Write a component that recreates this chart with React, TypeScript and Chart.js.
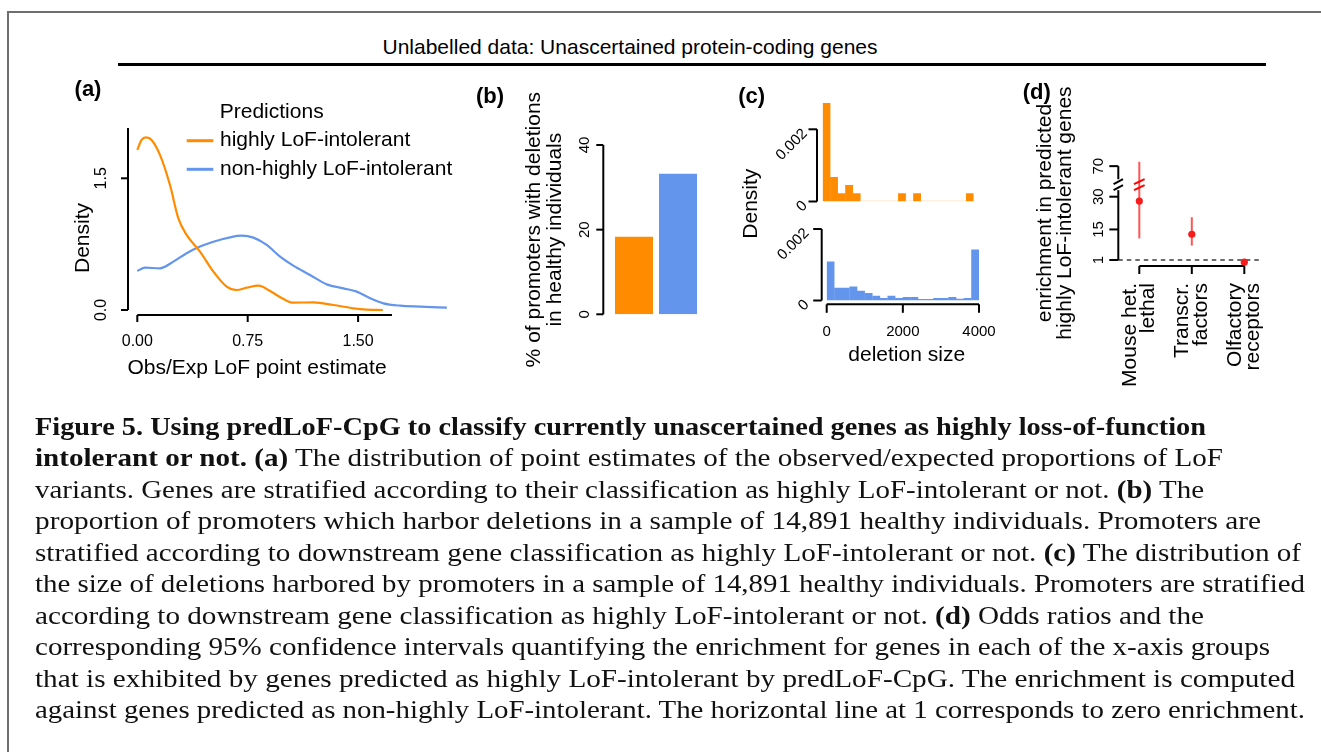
import React, { useEffect, useLayoutEffect, useRef } from "react";
import { Chart, registerables } from "chart.js";

Chart.register(...registerables);

const PAGE_W = 1321;
const PAGE_H = 752;
const SANS = "'Liberation Sans', Arial, Helvetica, sans-serif";
const SERIF = "'Liberation Serif', 'Times New Roman', serif";

const ORANGE = "#FF8C00";
const ORANGE_EMPTY = "#FFE2C2";
const BLUE = "#6495ED";
const RED_POINT = "#F51C1C";
const RED_BAR = "rgba(255, 20, 20, 0.72)";
const RED_MARK = "#FF0000";

// ---------------- Panel (a): density curves
const seriesNames = ["highly LoF-intolerant", "non-highly LoF-intolerant"];
const legendTitle = "Predictions";
const intolerantX = [0, 0.029, 0.059, 0.097, 0.154, 0.222, 0.279, 0.335, 0.426, 0.517, 0.607, 0.675, 0.743, 0.823, 0.902, 0.993, 1.06, 1.196, 1.332, 1.468, 1.559, 1.668];
const intolerantY = [1.823, 1.937, 1.967, 1.937, 1.766, 1.424, 1.044, 0.855, 0.665, 0.437, 0.266, 0.228, 0.254, 0.277, 0.216, 0.125, 0.084, 0.087, 0.057, 0.019, 0.004, 0.0];
const tolerantX = [0, 0.052, 0.154, 0.245, 0.335, 0.426, 0.517, 0.63, 0.709, 0.789, 0.879, 0.97, 1.06, 1.174, 1.287, 1.4, 1.491, 1.582, 1.672, 1.786, 1.922, 2.103];
const tolerantY = [0.444, 0.482, 0.475, 0.551, 0.646, 0.722, 0.778, 0.828, 0.847, 0.824, 0.741, 0.608, 0.505, 0.399, 0.292, 0.247, 0.209, 0.133, 0.076, 0.049, 0.038, 0.027];
const aXTicks = [0, 0.75, 1.5];
const aXTickLabels = ["0.00", "0.75", "1.50"];
const aYTicks = [0, 1.5];
const aYTickLabels = ["0.0", "1.5"];
const aXAxisEnd = 1.73;
const aXTitle = "Obs/Exp LoF point estimate";
const aYTitle = "Density";

// ---------------- Panel (b): promoters with deletions (%)
const bValues = [18.3, 33.2];
const bYTicks = [0, 20, 40];
const bYTitle = ["% of promoters with deletions", "in healthy individuals"];

// ---------------- Panel (c): deletion size histograms
const binStarts = [0, 200, 400, 600, 800, 1000, 1200, 1400, 1600, 1800, 2000, 2200, 2400, 2600, 2800, 3000, 3200, 3400, 3600, 3800];
const binWidth = 200;
const cIntolerant = [0.00273, 0.00068, 0.00023, 0.00046, 0.00023, 0, 0, 0, 0, 0, 0.00023, 0, 0.00023, 0, 0, 0, 0, 0, 0, 0.00023];
const cTolerant = [0.00109, 0.00036, 0.00036, 0.00039, 0.00027, 0.00021, 0.00013, 0.00007, 0.00013, 0.00007, 0.0001, 0.0001, 0.00004, 0.00004, 0.00007, 0.00007, 0.0001, 0.00005, 0.00007, 0.00143];
const cXTicks = [0, 2000, 4000];
const cYTicks = [0, 0.002];
const cYTickLabels = ["0", "0.002"];
const cXTitle = "deletion size";
const cYTitle = "Density";

// ---------------- Panel (d): enrichment odds ratios
const dGroups = [["Mouse het.", "lethal"], ["Transcr.", "factors"], ["Olfactory", "receptors"]];
const dOdds = [28, 12.8, 0];
const dLower = [10.9, 7.6, 0];
const dUpper = [72, 20.6, 0.3];
const dYTicks = [1, 15, 30, 70];
const dGap = [33, 64];
const dGapSpace = 5;
const dRef = 1;
const dYTitle = ["enrichment in predicted", "highly LoF-intolerant genes"];

// ---------------- Texts
const topTitle = "Unlabelled data: Unascertained protein-coding genes";
const captionLines: [string, boolean][][] = [
  [["Figure 5. Using predLoF-CpG to classify currently unascertained genes as highly loss-of-function", true]],
  [["intolerant or not. (a)", true], [" The distribution of point estimates of the observed/expected proportions of LoF", false]],
  [["variants. Genes are stratified according to their classification as highly LoF-intolerant or not. ", false], ["(b)", true], [" The", false]],
  [["proportion of promoters which harbor deletions in a sample of 14,891 healthy individuals. Promoters are", false]],
  [["stratified according to downstream gene classification as highly LoF-intolerant or not. ", false], ["(c)", true], [" The distribution of", false]],
  [["the size of deletions harbored by promoters in a sample of 14,891 healthy individuals. Promoters are stratified", false]],
  [["according to downstream gene classification as highly LoF-intolerant or not. ", false], ["(d)", true], [" Odds ratios and the", false]],
  [["corresponding 95% confidence intervals quantifying the enrichment for genes in each of the x-axis groups", false]],
  [["that is exhibited by genes predicted as highly LoF-intolerant by predLoF-CpG. The enrichment is computed", false]],
  [["against genes predicted as non-highly LoF-intolerant. The horizontal line at 1 corresponds to zero enrichment.", false]],
];
const CAPTION_LEFT = 35;
const captionRight = [1206, 1223, 1204, 1261, 1301, 1305, 1204, 1270, 1295, 1305];
const CAPTION_TOP = 428.5;
const CAPTION_STEP = 31.5;

// ---------------- helpers
const UP = -Math.PI / 2;

function lim(p0: number, v0: number, p1: number, v1: number, a: number, b: number) {
  const k = (v1 - v0) / (p1 - p0);
  return { min: v0 + (a - p0) * k, max: v0 + (b - p0) * k };
}
function pad(l: number, r: number, t: number, b: number) {
  return { left: l, right: PAGE_W - r, top: t, bottom: PAGE_H - b };
}
function seg(ctx: any, x1: number, y1: number, x2: number, y2: number, color = "#000", w = 2, dash: number[] = []) {
  ctx.save();
  ctx.beginPath();
  ctx.setLineDash(dash);
  ctx.strokeStyle = color;
  ctx.lineWidth = w;
  ctx.lineCap = "butt";
  ctx.moveTo(x1, y1);
  ctx.lineTo(x2, y2);
  ctx.stroke();
  ctx.restore();
}
function label(ctx: any, s: string, x: number, y: number, o: any = {}) {
  ctx.save();
  ctx.translate(x, y);
  if (o.rot) ctx.rotate(o.rot);
  ctx.font = `${o.bold ? "bold " : ""}${o.size ?? 21}px ${SANS}`;
  ctx.textAlign = o.align ?? "center";
  ctx.textBaseline = "middle";
  ctx.fillStyle = o.color ?? "#000";
  ctx.fillText(s, 0, 0);
  ctx.restore();
}
function breakMark(ctx: any, cx: number, cy: number, color: string, hw: number) {
  seg(ctx, cx - hw, cy - 3 + 2.5, cx + hw, cy - 3 - 2.5, color, 2);
  seg(ctx, cx - hw, cy + 3 + 2.5, cx + hw, cy + 3 - 2.5, color, 2);
}
const gy = (v: number) => (v <= dGap[0] ? v : v - (dGap[1] - dGap[0]) + dGapSpace);

const baseOptions = (padding: any, scales: any) => ({
  animation: false,
  responsive: false,
  maintainAspectRatio: false,
  devicePixelRatio: 1,
  events: [],
  layout: { padding },
  scales,
  plugins: { legend: { display: false }, tooltip: { enabled: false }, title: { display: false } },
});

// ---------------- configs
function configA(): any {
  const sx = lim(137.3, 0, 247.7, 0.75, 128, 460);
  const sy = lim(310, 0, 178.3, 1.5, 315, 128);
  const plugin = {
    id: "panelA",
    afterDraw(chart: any) {
      const { ctx, chartArea: ca, scales } = chart;
      const x = scales.x, y = scales.y;
      seg(ctx, ca.left, y.getPixelForValue(0), ca.left, ca.top);
      aYTicks.forEach((v, i) => {
        const p = y.getPixelForValue(v);
        seg(ctx, ca.left - 7, p, ca.left, p);
        label(ctx, aYTickLabels[i], ca.left - 26.5, p, { size: 16, rot: UP });
      });
      seg(ctx, x.getPixelForValue(0), ca.bottom, x.getPixelForValue(aXAxisEnd), ca.bottom);
      aXTicks.forEach((v, i) => {
        const p = x.getPixelForValue(v);
        seg(ctx, p, ca.bottom, p, ca.bottom + 7);
        label(ctx, aXTickLabels[i], p, ca.bottom + 27, { size: 16 });
      });
      label(ctx, aXTitle, 257, 368);
      label(ctx, aYTitle, 83.3, 238, { rot: UP });
      label(ctx, "(a)", 88, 90, { bold: true, size: 22 });
      label(ctx, legendTitle, 271.7, 112.7);
      chart.data.datasets.forEach((ds: any, i: number) => {
        const ly = 140.7 + i * 28.6;
        seg(ctx, 186.7, ly, 213.3, ly, ds.borderColor, 3);
        label(ctx, ds.label, 220, ly, { align: "left" });
      });
    },
  };
  return {
    type: "line",
    data: {
      datasets: [
        { label: seriesNames[0], data: intolerantX.map((x, i) => ({ x, y: intolerantY[i] })), borderColor: ORANGE, borderWidth: 2.2, pointRadius: 0, cubicInterpolationMode: "monotone", fill: false },
        { label: seriesNames[1], data: tolerantX.map((x, i) => ({ x, y: tolerantY[i] })), borderColor: BLUE, borderWidth: 2.2, pointRadius: 0, cubicInterpolationMode: "monotone", fill: false },
      ],
    },
    options: baseOptions(pad(128, 460, 128, 315), {
      x: { type: "linear", display: false, min: sx.min, max: sx.max },
      y: { type: "linear", display: false, min: sy.min, max: sy.max },
    }),
    plugins: [plugin],
  };
}

function configB(): any {
  const AXIS_X = 603.3;
  const plugin = {
    id: "panelB",
    afterDraw(chart: any) {
      const { ctx, scales } = chart;
      const y = scales.y;
      const y0 = y.getPixelForValue(bYTicks[0]);
      const y1 = y.getPixelForValue(bYTicks[bYTicks.length - 1]);
      seg(ctx, AXIS_X, y0, AXIS_X, y1);
      bYTicks.forEach((v) => {
        const p = y.getPixelForValue(v);
        seg(ctx, AXIS_X - 7, p, AXIS_X, p);
        label(ctx, String(v), 585, p, { size: 15, rot: UP });
      });
      const yc = (y0 + y1) / 2;
      label(ctx, bYTitle[0], 534, yc, { rot: UP });
      label(ctx, bYTitle[1], 555, yc, { rot: UP });
      label(ctx, "(b)", 490, 96.7, { bold: true, size: 22 });
    },
  };
  return {
    type: "bar",
    data: {
      labels: seriesNames,
      datasets: [{ data: bValues, backgroundColor: [ORANGE, BLUE], borderWidth: 0, barPercentage: 38 / 44, categoryPercentage: 1 }],
    },
    options: baseOptions(pad(612, 700, 145, 314.3), {
      x: { type: "category", display: false },
      y: { type: "linear", display: false, min: 0, max: 40 },
    }),
    plugins: [plugin],
  };
}

function cIndex(v: number) {
  return v / binWidth - 0.5;
}

function configCTop(): any {
  const AXIS_X = 817;
  const sy = lim(201.5, 0, 129.3, 0.002, 201.5, 100);
  const plugin = {
    id: "panelCTop",
    afterDraw(chart: any) {
      const { ctx, scales } = chart;
      const y = scales.y;
      const y0 = y.getPixelForValue(cYTicks[0]);
      const y1 = y.getPixelForValue(cYTicks[cYTicks.length - 1]);
      seg(ctx, AXIS_X, y0, AXIS_X, y1);
      cYTicks.forEach((v, i) => {
        const p = y.getPixelForValue(v);
        seg(ctx, AXIS_X - 8.5, p, AXIS_X, p);
        label(ctx, cYTickLabels[i], AXIS_X - 12, p + 2, { size: 15, rot: -Math.PI / 4, align: "right" });
      });
      label(ctx, "(c)", 751.7, 96.7, { bold: true, size: 22 });
    },
  };
  return {
    type: "bar",
    data: {
      labels: binStarts.map(String),
      datasets: [{
        data: cIntolerant,
        backgroundColor: (c: any) => (c.raw === 0 ? ORANGE_EMPTY : ORANGE),
        borderWidth: 0, barPercentage: 1.04, categoryPercentage: 1, minBarLength: 1,
      }],
    },
    options: baseOptions(pad(822.7, 973.7, 100, 201.5), {
      x: { type: "category", display: false },
      y: { type: "linear", display: false, min: sy.min, max: sy.max },
    }),
    plugins: [plugin],
  };
}

function configCBottom(): any {
  const AXIS_X = 821.7;
  const sy = lim(300.5, 0, 229, 0.002, 300.5, 235);
  const plugin = {
    id: "panelCBottom",
    afterDraw(chart: any) {
      const { ctx, scales, chartArea: ca } = chart;
      const x = scales.x, y = scales.y;
      const y0 = y.getPixelForValue(cYTicks[0]);
      const y1 = y.getPixelForValue(cYTicks[cYTicks.length - 1]);
      seg(ctx, AXIS_X, y0, AXIS_X, y1);
      cYTicks.forEach((v, i) => {
        const p = y.getPixelForValue(v);
        seg(ctx, AXIS_X - 8.5, p, AXIS_X, p);
        label(ctx, cYTickLabels[i], AXIS_X - 15, p + 2, { size: 15, rot: -Math.PI / 4, align: "right" });
      });
      const XA = ca.bottom + 3.8;
      const xa = x.getPixelForValue(cIndex(cXTicks[0]));
      const xb = x.getPixelForValue(cIndex(cXTicks[cXTicks.length - 1]));
      seg(ctx, xa, XA, xb, XA);
      cXTicks.forEach((v) => {
        const p = x.getPixelForValue(cIndex(v));
        seg(ctx, p, XA, p, XA + 8.5);
        label(ctx, String(v), p, 331.7, { size: 15 });
      });
      label(ctx, cXTitle, 906.7, 355.5);
      label(ctx, cYTitle, 751.7, 203.7, { rot: UP });
    },
  };
  return {
    type: "bar",
    data: {
      labels: binStarts.map(String),
      datasets: [{ data: cTolerant, backgroundColor: BLUE, borderWidth: 0, barPercentage: 1.04, categoryPercentage: 1, minBarLength: 1 }],
    },
    options: baseOptions(pad(826.7, 979, 235, 300.5), {
      x: { type: "category", display: false },
      y: { type: "linear", display: false, min: sy.min, max: sy.max },
    }),
    plugins: [plugin],
  };
}

function configD(): any {
  const sx = lim(1139.3, 1, 1244.3, 3, 1118.3, 1262);
  const sy = lim(260, 1, 196.7, 30, 266, 150);
  const plugin = {
    id: "panelD",
    beforeDatasetsDraw(chart: any) {
      const { ctx, chartArea: ca, scales } = chart;
      const y = scales.y;
      const pr = y.getPixelForValue(gy(dRef));
      seg(ctx, ca.left, pr, ca.right, pr, "#3c3c3c", 1.6, [4.5, 4]);
    },
    afterDraw(chart: any) {
      const { ctx, chartArea: ca, scales } = chart;
      const x = scales.x, y = scales.y;
      const yLow = y.getPixelForValue(gy(dYTicks[0]));
      const yTop = y.getPixelForValue(gy(dYTicks[dYTicks.length - 1]));
      const yGapLo = y.getPixelForValue(gy(dGap[0]));
      const yGapHi = y.getPixelForValue(gy(dGap[1]));
      seg(ctx, ca.left, yLow, ca.left, yGapLo);
      seg(ctx, ca.left, yGapHi, ca.left, yTop);
      const yc = (yGapLo + yGapHi) / 2;
      breakMark(ctx, ca.left, yc, "#000", 4.7);
      dUpper.forEach((hi, i) => {
        if (hi > dGap[1]) breakMark(ctx, x.getPixelForValue(i + 1), yc, RED_MARK, 5.3);
      });
      dYTicks.forEach((v) => {
        const p = y.getPixelForValue(gy(v));
        seg(ctx, ca.left - 9, p, ca.left, p);
        label(ctx, String(v), 1099, p, { size: 15, rot: UP });
      });
      const xa = x.getPixelForValue(1);
      const xb = x.getPixelForValue(dGroups.length);
      seg(ctx, xa, ca.bottom, xb, ca.bottom);
      dGroups.forEach((g, i) => {
        const p = x.getPixelForValue(i + 1);
        seg(ctx, p, ca.bottom, p, ca.bottom + 8);
        g.forEach((s, j) => label(ctx, s, p + (j - (g.length - 1) / 2) * 18.5, 283, { rot: UP, align: "right" }));
      });
      const ym = (yLow + yTop) / 2;
      label(ctx, dYTitle[0], 1045, ym, { rot: UP });
      label(ctx, dYTitle[1], 1065, ym, { rot: UP });
      label(ctx, "(d)", 1036.7, 93, { bold: true, size: 22 });
    },
  };
  return {
    type: "scatter",
    data: {
      datasets: [
        { type: "scatter", data: dOdds.map((v, i) => ({ x: i + 1, y: gy(v) })), pointRadius: 3.6, pointBackgroundColor: RED_POINT, backgroundColor: RED_POINT, pointBorderWidth: 0, borderWidth: 0, clip: false },
        ...dLower.map((lo, i) => ({
          type: "line",
          data: [{ x: i + 1, y: gy(lo) }, { x: i + 1, y: gy(dUpper[i]) }],
          borderColor: RED_BAR, borderWidth: 2, pointRadius: 0, showLine: true, fill: false, clip: false,
        })),
      ],
    },
    options: baseOptions(pad(1118.3, 1262, 150, 266), {
      x: { type: "linear", display: false, min: sx.min, max: sx.max },
      y: { type: "linear", display: false, min: sy.min, max: sy.max },
    }),
    plugins: [plugin],
  };
}

const canvasStyle: React.CSSProperties = { position: "absolute", left: 0, top: 0, width: PAGE_W, height: PAGE_H, pointerEvents: "none" };

export default function App() {
  const refs = [useRef<HTMLCanvasElement>(null), useRef<HTMLCanvasElement>(null), useRef<HTMLCanvasElement>(null), useRef<HTMLCanvasElement>(null), useRef<HTMLCanvasElement>(null)];
  const capRefs = useRef<(HTMLSpanElement | null)[]>([]);

  useEffect(() => {
    Chart.defaults.font.family = SANS;
    const makers = [configA, configB, configCTop, configCBottom, configD];
    const charts = makers.map((m, i) => new Chart(refs[i].current as HTMLCanvasElement, m()));
    return () => charts.forEach((c) => c.destroy());
  }, []);

  useLayoutEffect(() => {
    const fit = () => {
      capRefs.current.forEach((el, i) => {
        if (!el) return;
        el.style.transform = "none";
        const w = el.getBoundingClientRect().width;
        if (w > 0) el.style.transform = `scaleX(${(captionRight[i] - CAPTION_LEFT) / w})`;
      });
    };
    fit();
    const fonts = (document as any).fonts;
    if (fonts && fonts.ready) fonts.ready.then(fit);
  }, []);

  return (
    <div style={{ position: "absolute", left: 0, top: 0, width: PAGE_W, height: PAGE_H, background: "#fff", overflow: "hidden" }}>
      <div style={{ position: "absolute", left: 6.5, top: 11, width: PAGE_W, height: PAGE_H, borderLeft: "2px solid #6e6e6e", borderTop: "2px solid #6e6e6e" }} />
      <div style={{ position: "absolute", left: 0, width: 1260, top: 35, height: 24, lineHeight: "24px", textAlign: "center", font: `21px ${SANS}`, color: "#000" }}>{topTitle}</div>
      <div style={{ position: "absolute", left: 118, width: 1148, top: 63, height: 2.5, background: "#000" }} />
      {refs.map((r, i) => (
        <canvas key={i} ref={r} width={PAGE_W} height={PAGE_H} style={canvasStyle} />
      ))}
      {captionLines.map((line, i) => (
        <div key={i} style={{ position: "absolute", left: CAPTION_LEFT, top: CAPTION_TOP + i * CAPTION_STEP - 16, height: 32, lineHeight: "32px", whiteSpace: "nowrap", font: `25px ${SERIF}`, color: "#111" }}>
          <span ref={(el) => { capRefs.current[i] = el; }} style={{ display: "inline-block", transformOrigin: "0 50%" }}>
            {line.map(([t, b], j) => (
              <span key={j} style={{ fontWeight: b ? "bold" : "normal" }}>{t}</span>
            ))}
          </span>
        </div>
      ))}
    </div>
  );
}
